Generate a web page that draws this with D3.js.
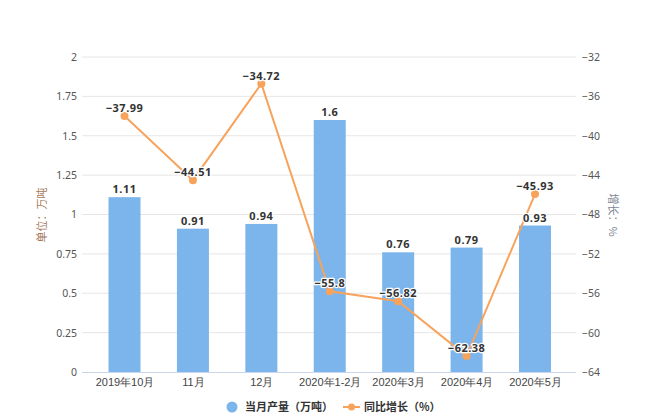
<!DOCTYPE html>
<html><head><meta charset="utf-8">
<script src="https://cdn.jsdelivr.net/npm/d3@7"></script>
<style>
body{margin:0;background:#fff;}
svg{display:block;font-family:"Noto Sans CJK SC","Noto Sans",sans-serif;}
</style></head>
<body>
<svg id="c" width="650" height="420"></svg>
<script>
const categories = ["2019年10月","11月","12月","2020年1-2月","2020年3月","2020年4月","2020年5月"];
const production = [1.11, 0.91, 0.94, 1.6, 0.76, 0.79, 0.93];
const growth = [-37.99, -44.51, -34.72, -55.8, -56.82, -62.38, -45.93];
const leftTicks = [0, 0.25, 0.5, 0.75, 1, 1.25, 1.5, 1.75, 2];
const rightTicks = [-64, -60, -56, -52, -48, -44, -40, -36, -32];
const seriesNames = ["当月产量（万吨）", "同比增长（%）"];
const leftTitle = "单位：万吨";
const rightTitle = "增长：%";

const svg = d3.select("#c");
const L = 82, R = 576, T = 57, B = 372;
const barColor = "#7cb5ec", lineColor = "#f7a35c";

const x = d3.scalePoint().domain(categories).range([124.5, 535]).padding(0);
const yL = d3.scaleLinear().domain([0, 2]).range([B, T]);
const yR = d3.scaleLinear().domain([-64, -32]).range([B, T]);

// gridlines
svg.append("g").selectAll("line").data(leftTicks.slice(1)).join("line")
  .attr("x1", L).attr("x2", R).attr("y1", d => yL(d)).attr("y2", d => yL(d))
  .attr("stroke", "#e6e6e6").attr("stroke-width", 1);

// left axis
const gl = svg.append("g").attr("transform", `translate(${L},0)`)
  .call(d3.axisLeft(yL).tickValues(leftTicks).tickSize(0).tickPadding(5).tickFormat(d => d3.format("")(d)));
gl.select(".domain").remove();
gl.selectAll("text").attr("font-size", 10.5).attr("fill", "#555").attr("font-family", "Noto Sans, sans-serif");

// right axis
const gr = svg.append("g").attr("transform", `translate(${R},0)`)
  .call(d3.axisRight(yR).tickValues(rightTicks).tickSize(0).tickPadding(6));
gr.select(".domain").remove();
gr.selectAll("text").attr("font-size", 10.5).attr("fill", "#555").attr("font-family", "Noto Sans, sans-serif");

// bars
const bw = 32;
svg.append("g").selectAll("rect").data(production).join("rect")
  .attr("x", (d, i) => x(categories[i]) - bw / 2)
  .attr("width", bw)
  .attr("y", d => yL(d))
  .attr("height", d => B - yL(d))
  .attr("fill", barColor);

// x axis
const gx = svg.append("g").attr("transform", `translate(0,${B})`)
  .call(d3.axisBottom(x).tickSize(0).tickPadding(6));
gx.select(".domain").attr("stroke", "#ccd6eb").attr("d", `M${L},0.5H${R}`);
gx.selectAll("text").attr("font-size", 11).attr("fill", "#444");

// line
const line = d3.line().x((d, i) => x(categories[i])).y(d => yR(d));
svg.append("path").datum(growth).attr("d", line)
  .attr("fill", "none").attr("stroke", lineColor).attr("stroke-width", 2);
svg.append("g").selectAll("circle").data(growth).join("circle")
  .attr("cx", (d, i) => x(categories[i])).attr("cy", d => yR(d)).attr("r", 4)
  .attr("fill", lineColor);

// data labels
function label(g, xx, yy, t) {
  g.append("text").attr("x", xx).attr("y", yy).attr("text-anchor", "middle")
    .attr("font-size", 11).attr("font-weight", "bold").attr("fill", "#333")
    .attr("stroke", "#fff").attr("stroke-width", 2.5).attr("paint-order", "stroke")
    .attr("stroke-linejoin", "round").attr("letter-spacing", 0.5)
    .attr("font-family", "Noto Sans, sans-serif")
    .text(t);
}
const lab = svg.append("g");
production.forEach((d, i) => label(lab, x(categories[i]), yL(d) - 4, String(d)));
growth.forEach((d, i) => label(lab, x(categories[i]), yR(d) - 4, String(d).replace("-", "−")));

// axis titles
svg.append("text").attr("transform", "translate(46,215) rotate(-90)")
  .attr("text-anchor", "middle").attr("font-size", 11).attr("fill", "#a67a5b").text(leftTitle);
svg.append("text").attr("transform", "translate(609,215) rotate(90)")
  .attr("text-anchor", "middle").attr("font-size", 11).attr("fill", "#7a8594").text(rightTitle);

// legend
const lg = svg.append("g");
lg.append("circle").attr("cx", 232).attr("cy", 407).attr("r", 5.5).attr("fill", barColor);
lg.append("text").attr("x", 245).attr("y", 411).attr("font-size", 11).attr("font-weight", "bold").attr("fill", "#333").text(seriesNames[0]);
lg.append("line").attr("x1", 343).attr("x2", 360).attr("y1", 407).attr("y2", 407).attr("stroke", lineColor).attr("stroke-width", 2);
lg.append("circle").attr("cx", 351.5).attr("cy", 407).attr("r", 3.5).attr("fill", lineColor);
lg.append("text").attr("x", 364).attr("y", 411).attr("font-size", 11).attr("font-weight", "bold").attr("fill", "#333").text(seriesNames[1]);
</script>
</body></html>
